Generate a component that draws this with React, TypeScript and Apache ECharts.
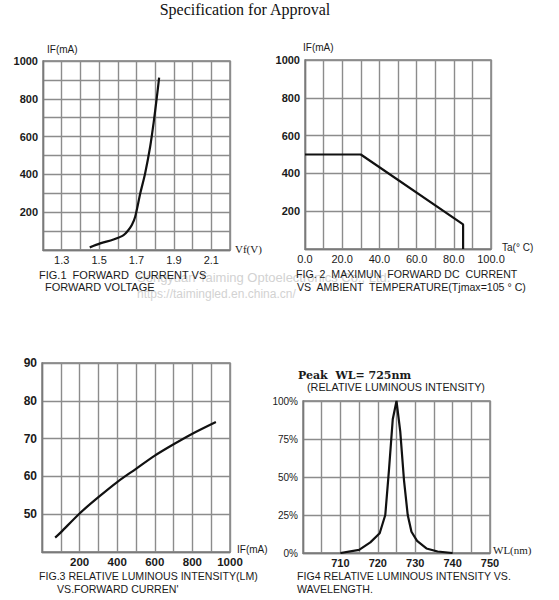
import React, { useEffect, useRef } from "react";
import * as echarts from "echarts";

// ---- Data ----
const fig1Volt = [1.45, 1.506, 1.577, 1.631, 1.657, 1.675, 1.693, 1.72, 1.746, 1.773, 1.791, 1.809, 1.821];
const fig1Curr = [14, 35, 56, 79, 106, 132, 176, 299, 405, 546, 669, 810, 912];

const fig2Temp = [0, 30, 85, 85];
const fig2Curr = [500, 500, 130, 0];

const fig3Curr = [70, 100, 200, 300, 400, 500, 600, 700, 800, 925];
const fig3Int = [43.8, 45.2, 50.2, 54.5, 58.5, 62, 65.5, 68.5, 71.3, 74.4];

const fig4Wl = [710, 715, 718, 720.5, 722, 723, 724, 725, 726, 727, 728, 729, 730.5, 733, 736, 740];
const fig4Rel = [0, 2, 7, 13, 25, 55, 88, 100, 80, 48, 25, 14, 8, 3, 1, 0];

const SANS = "'Liberation Sans', Arial, sans-serif";
const SERIF = "'Liberation Serif', 'Times New Roman', serif";
const GRID_C = "#8c8c8c";
const BORDER_C = "#7a7a7a";

const pairs = (xs: number[], ys: number[]) => xs.map((x, i) => [x, ys[i]]);

function App() {
  const ref = useRef<HTMLDivElement>(null);
  useEffect(() => {
    if (!ref.current) return;
    const chart = echarts.init(ref.current, null, { renderer: "svg" });

    const split = { show: true, lineStyle: { color: GRID_C, width: 1.4 } };
    const axLine = { show: true, lineStyle: { color: BORDER_C, width: 1.4 } };
    const baseAxis = (gi: number, min: number, max: number, interval: number, fmt: (v: number) => string, labelOpt: any) => ({
      type: "value",
      gridIndex: gi,
      min,
      max,
      interval,
      splitLine: split,
      axisLine: axLine,
      axisTick: { show: false },
      axisLabel: { formatter: fmt, color: "#1a1a1a", fontFamily: SANS, ...labelOpt },
    });

    const txt = (text: string, x: number, y: number, font: string, fill = "#1a1a1a", align = "left") => ({
      type: "text",
      x,
      y,
      style: { text, font, fill, textAlign: align, textVerticalAlign: "middle" },
      z: 10,
    });

    const option: any = {
      animation: false,
      backgroundColor: "#ffffff",
      grid: [
        { left: 43, top: 61, width: 187, height: 189, show: true, borderColor: BORDER_C, borderWidth: 1.4 },
        { left: 305, top: 60, width: 186, height: 189, show: true, borderColor: BORDER_C, borderWidth: 1.4 },
        { left: 42, top: 363, width: 188, height: 189, show: true, borderColor: BORDER_C, borderWidth: 1.4 },
        { left: 303, top: 401, width: 187, height: 152, show: true, borderColor: BORDER_C, borderWidth: 1.4 },
      ],
      xAxis: [
        baseAxis(0, 1.2, 2.2, 0.1, (v) => {
          const k = Math.round(v * 10);
          return k % 2 === 1 ? (k / 10).toFixed(1) : "";
        }, { fontSize: 11, margin: 4 }),
        baseAxis(1, 0, 100, 10, (v) => {
          const k = Math.round(v);
          return k % 20 === 0 ? k.toFixed(1) : "";
        }, { fontSize: 11, margin: 4 }),
        baseAxis(2, 0, 1000, 100, (v) => {
          const k = Math.round(v);
          return k > 0 && k % 200 === 0 ? String(k) : "";
        }, { fontSize: 11.5, fontWeight: "bold", margin: 4 }),
        baseAxis(3, 700, 750, 5, (v) => {
          const k = Math.round(v);
          return k > 700 && k % 10 === 0 ? String(k) : "";
        }, { fontSize: 11, fontWeight: "bold", margin: 4 }),
      ],
      yAxis: [
        baseAxis(0, 0, 1000, 100, (v) => {
          const k = Math.round(v);
          return k > 0 && k % 200 === 0 ? String(k) : "";
        }, { fontSize: 11, fontWeight: "bold", margin: 5 }),
        baseAxis(1, 0, 1000, 200, (v) => {
          const k = Math.round(v);
          return k > 0 ? String(k) : "";
        }, { fontSize: 11, fontWeight: "bold", margin: 5 }),
        baseAxis(2, 40, 90, 10, (v) => {
          const k = Math.round(v);
          return k > 40 ? String(k) : "";
        }, { fontSize: 12, fontWeight: "bold", margin: 5 }),
        baseAxis(3, 0, 100, 25, (v) => Math.round(v) + "%", { fontSize: 10, margin: 5 }),
      ],
      series: [
        {
          type: "line", xAxisIndex: 0, yAxisIndex: 0, data: pairs(fig1Volt, fig1Curr),
          showSymbol: false, smooth: 0.3, lineStyle: { color: "#111", width: 2.2 },
        },
        {
          type: "line", xAxisIndex: 1, yAxisIndex: 1, data: pairs(fig2Temp, fig2Curr),
          showSymbol: false, lineStyle: { color: "#111", width: 2.2 },
        },
        {
          type: "line", xAxisIndex: 2, yAxisIndex: 2, data: pairs(fig3Curr, fig3Int),
          showSymbol: false, smooth: 0.3, lineStyle: { color: "#111", width: 2.2 },
        },
        {
          type: "line", xAxisIndex: 3, yAxisIndex: 3, data: pairs(fig4Wl, fig4Rel),
          showSymbol: false, lineStyle: { color: "#111", width: 2.2 },
        },
      ],
      graphic: [
        txt("Specification for Approval", 245, 9, `16px ${SERIF}`, "#111", "center"),
        // watermark
        { type: "text", x: 137, y: 277, z: 1, style: { text: "Songyuan Taiming Optoelectronics Co., Ltd.", font: `13px ${SANS}`, fill: "#d2d2d2", textVerticalAlign: "middle" } },
        { type: "text", x: 137, y: 294, z: 1, style: { text: "https://taimingled.en.china.cn/", font: `12px ${SANS}`, fill: "#d2d2d2", textVerticalAlign: "middle" } },
        // Fig 1
        txt("IF(mA)", 47, 49, `10px ${SANS}`),
        txt("Vf(V)", 235, 249, `11px ${SERIF}`),
        txt("FIG.1  FORWARD  CURRENT VS", 39, 275, `11px ${SANS}`),
        txt("FORWARD VOLTAGE", 45, 287, `11px ${SANS}`),
        // Fig 2
        txt("IF(mA)", 303, 47, `10px ${SANS}`),
        txt("Ta(° C)", 502, 247, `10px ${SANS}`),
        txt("FIG. 2  MAXIMUN  FORWARD DC  CURRENT", 296, 274, `10.6px ${SANS}`),
        txt("VS  AMBIENT  TEMPERATURE(Tjmax=105 ° C)", 297, 287, `10.6px ${SANS}`),
        // Fig 3
        txt("IF(mA)", 237, 549, `10px ${SANS}`),
        txt("FIG.3 RELATIVE LUMINOUS INTENSITY(LM)", 39, 576, `10.6px ${SANS}`),
        txt("VS.FORWARD CURREN'", 57, 589, `10.6px ${SANS}`),
        // Fig 4
        txt("Peak  WL= 725nm", 298, 375, `bold 11px 'DejaVu Serif', serif`),
        txt("(RELATIVE LUMINOUS INTENSITY)", 307, 387, `10.8px ${SANS}`),
        txt("WL(nm)", 493, 550, `11px ${SERIF}`),
        txt("FIG4 RELATIVE LUMINOUS INTENSITY VS.", 297, 576, `10.6px ${SANS}`),
        txt("WAVELENGTH.", 297, 589, `10.6px ${SANS}`),
      ],
    };

    chart.setOption(option);
    return () => chart.dispose();
  }, []);

  return (
    <div
      ref={ref}
      style={{ position: "fixed", left: 0, top: 0, width: 559, height: 600 }}
    />
  );
}

export default App;
